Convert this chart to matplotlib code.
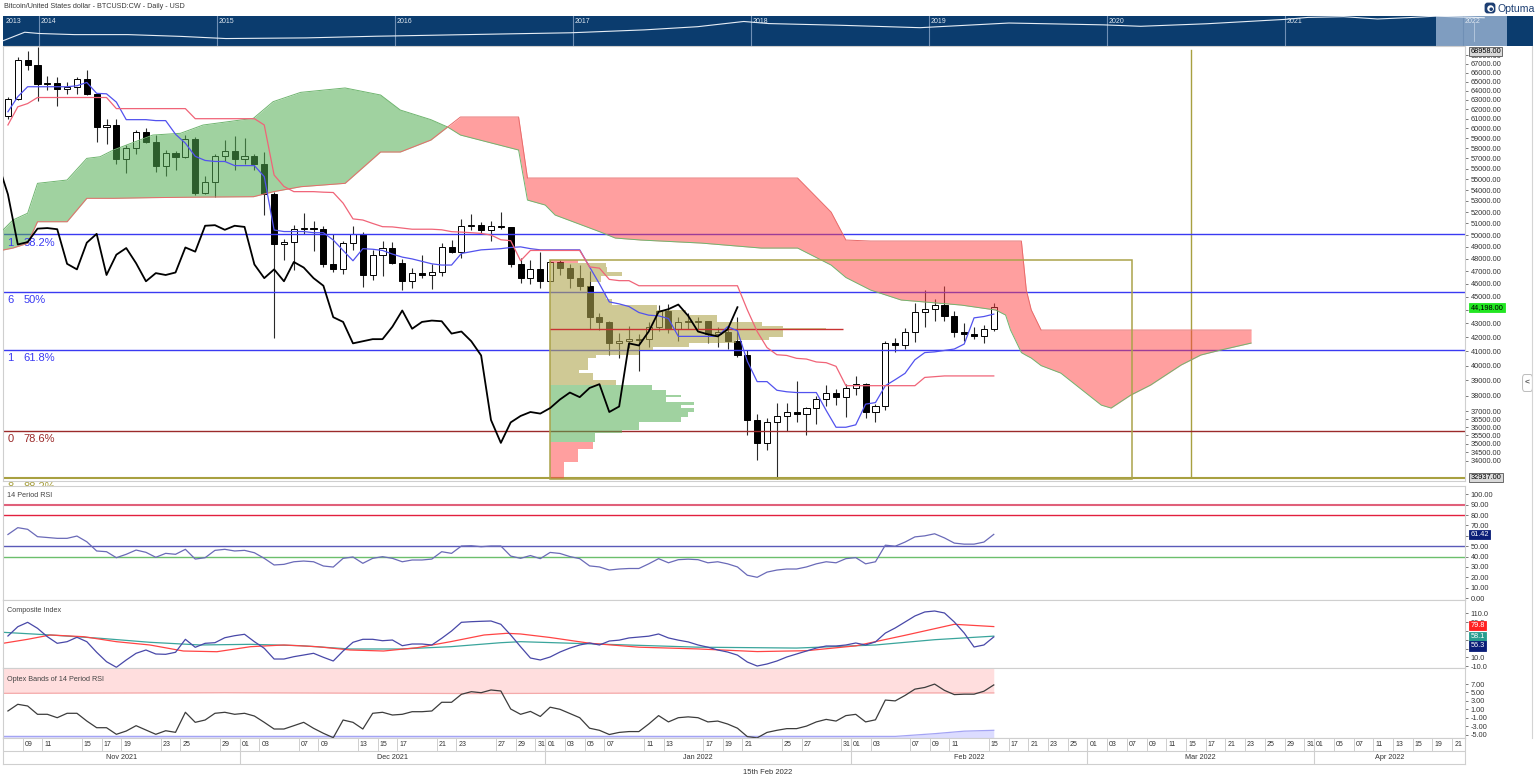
import numpy as np
import pandas as pd
import matplotlib
matplotlib.use("Agg")
import matplotlib.pyplot as plt
from matplotlib.patches import Rectangle, FancyBboxPatch, Circle
from matplotlib.transforms import blended_transform_factory as btf
from matplotlib.ticker import NullLocator

plt.rcParams['font.family'] = ['Liberation Sans', 'DejaVu Sans']
W, H = 1536, 783

# ---------------- price bars: daily, 7 Nov 2021 .. 15 Feb 2022 ----------------
bar_dates = pd.date_range('2021-11-07', '2022-02-15', freq='D')
opens = [61300, 63100, 67450, 66900, 64700, 64800, 64150, 64400, 65300, 63600,
         60100, 60300, 56900, 58050, 59650, 58650, 56250, 57500, 57150, 58950,
         53700, 54700, 57250, 57750, 56950, 57200, 56500, 53600, 49200, 49400,
         50550, 50600, 50500, 47600, 47150, 49350, 50100, 46700, 48350, 48900,
         47650, 46200, 46850, 46700, 46900, 48950, 48600, 50800, 50850, 50450,
         50800, 50700, 47550, 46450, 47150, 46200, 47750, 47300, 46450, 45850,
         43450, 43100, 41550, 41700, 41800, 41850, 42750, 43950, 42600, 43100,
         43100, 43150, 42250, 42400, 41700, 40700, 36450, 35050, 36300, 36700,
         36950, 36850, 37200, 37750, 38200, 37900, 38500, 38750, 36950, 37300,
         41550, 41400, 42400, 43850, 44050, 44400, 43550, 42400, 42200, 42050,
         42550]
highs = [63300, 67800, 68500, 68958, 65600, 65450, 64900, 65500, 66300, 63600,
         61000, 60950, 58350, 59850, 60000, 59300, 57850, 57700, 59350, 59150,
         55300, 57400, 58850, 59200, 59050, 57400, 57600, 53850, 49700, 50900,
         51950, 51200, 50800, 50100, 49500, 50800, 50300, 48700, 49500, 49450,
         48000, 47300, 48300, 47550, 49300, 49600, 51350, 51850, 51150, 51250,
         52000, 50700, 48100, 47900, 48550, 47950, 47950, 47550, 47500, 47050,
         43750, 43150, 42300, 42800, 42250, 43100, 44350, 44450, 43450, 43800,
         43450, 43200, 42700, 42600, 43500, 41100, 36850, 36550, 37550, 37550,
         38950, 37250, 38000, 38700, 38400, 38750, 39300, 38850, 37450, 41750,
         41950, 42650, 44500, 45500, 44800, 45800, 43950, 43000, 42750, 42850,
         44550]
lows = [61000, 63000, 66300, 62900, 64100, 62300, 63600, 63600, 63500, 58600,
        58400, 56500, 55600, 57450, 58500, 55650, 55350, 55900, 57000, 53550,
        53650, 53350, 56700, 55900, 56500, 55850, 51700, 41900, 47900, 47100,
        50050, 48650, 47350, 46900, 46800, 48700, 45750, 46300, 46600, 47550,
        45500, 45650, 46450, 45600, 46650, 48450, 48050, 50450, 50200, 49500,
        50500, 47350, 46100, 45950, 45700, 46200, 46700, 45700, 45500, 42550,
        42500, 40700, 40550, 41250, 39650, 41300, 42450, 42300, 41750, 42600,
        42600, 41550, 41300, 41150, 40600, 35500, 34050, 34650, 32937, 35750,
        36300, 35500, 36200, 37350, 37400, 36650, 38050, 36600, 36300, 37050,
        40950, 41150, 41650, 42700, 43150, 43200, 42000, 41750, 41850, 41550,
        42450]
closes = [63100, 67450, 66900, 64700, 64800, 64150, 64400, 65300, 63600, 60100,
          60300, 56900, 58050, 59650, 58650, 56250, 57500, 57150, 58950, 53700,
          54700, 57250, 57750, 56950, 57200, 56500, 53600, 49200, 49400, 50550,
          50600, 50500, 47600, 47150, 49350, 50100, 46700, 48350, 48900, 47650,
          46200, 46850, 46700, 46900, 48950, 48600, 50800, 50850, 50450, 50800,
          50700, 47550, 46450, 47150, 46200, 47750, 47300, 46450, 45850, 43450,
          43100, 41550, 41700, 41850, 41850, 42750, 43950, 42600, 43100, 43200,
          43150, 42250, 42400, 41700, 40700, 36450, 35050, 36300, 36700, 36950,
          36850, 37200, 37750, 38200, 37900, 38500, 38750, 36950, 37300, 41550,
          41400, 42400, 43850, 44050, 44400, 43550, 42400, 42200, 42050, 42550,
          44198]

# Ichimoku (per bar)
tenkan = [61730, 63335, 64425, 64425, 64425, 64425, 64425, 64530, 64900, 63700,
          63650, 62750, 60900, 60900, 60900, 60800, 60800, 59400, 58500, 57200,
          56800, 56700, 56700, 56300, 56300, 56300, 55250, 50430, 50300, 50300,
          50300, 50200, 50200, 49575, 48700, 47850, 48850, 48800, 48700, 48400,
          48150, 48000, 47800, 47600, 47500, 47500, 48450, 48600, 48750, 48800,
          48850, 48950, 49000, 48850, 48750, 48750, 48750, 48750, 48750, 47350,
          46000, 44600, 44450, 44250, 43800, 43600, 43550, 43350, 42050, 42050,
          42050, 42050, 42050, 42750, 42450, 40300, 38920, 38920, 38350, 38250,
          38200, 38200, 38200, 37050, 36000, 36000, 36150, 37450, 37550, 38650,
          39050, 39475, 40400, 40900, 40950, 41050, 41150, 41500, 43400, 43500,
          43680]
kijun = ([60350, 62250, 62600] + [63250] * 8 + [62060] * 8 + [61000] * 7 +
         [60350, 55400, 54330, 53850, 53850, 53850, 53800, 53770, 52800, 51400,
          51300, 51000, 50720, 50700, 50600, 50500, 50500, 50500, 50450, 50290,
          50250, 50200, 50140, 50000, 49600, 49520, 47850] +
         [48700] * 6 + [47350, 47250, 46350, 46250, 46250] + [45850] * 11 +
         [44000, 42400, 41250, 40750, 40700, 40500, 40450, 40250, 40200, 39950] +
         [38650] * 8 + [39200, 39250] + [39300] * 6)

# Kumo (cloud) edges: bar position, Senkou span A, Senkou span B
cloud_bar = [-2.5, -1.5, 0, 1, 4, 6, 7.35, 8.7, 12.7, 15.5, 17.8, 22.9, 24.9, 27.7,
             32.2, 35.8, 37.8, 40.9, 42.6, 43.9, 49.8, 50.7, 52.5, 53.5, 58.1, 59.6,
             62.2, 68.3, 74.4, 78.1, 81.5, 83, 85.5, 88.6, 94.7, 98.2, 99.2, 99.7,
             100.8, 101.3, 101.8, 102.8, 104.8, 108.9, 109.9, 111.9, 113.9, 117,
             119, 121, 124.1]
span_a = [50430, 51300, 51900, 54620, 54930, 57000, 57160, 57820, 59320, 59495,
          60345, 61040, 62800, 63810, 64290, 63520, 61910, 60900, 60140, 59320,
          57820, 53080, 52630, 51740, 50260, 49745, 49575, 49320, 48900, 48900,
          47500, 46500, 45515, 44745, 44360, 43985, 43610, 42505, 40900, 40700,
          40520, 40000, 39490, 37390, 37200, 38035, 38690, 40040, 40730, 41075,
          41570]
span_b = [48735, 48900, 49300, 51150, 51150, 53240, 53240, 53240, 53300, 53330,
          53350, 53385, 53840, 54305, 54620, 57625, 57625, 58815, 60140, 61175,
          61175, 55115, 55115, 55115, 55115, 55115, 55115, 55115, 55115, 55115,
          52000, 49575, 49490, 49490, 49490, 49490, 49490, 49490, 49490, 45515,
          44000, 42505, 42505, 42505, 42505, 42505, 42505, 42505, 42505, 42505,
          42505]

# Fibonacci retracement levels
fib_price = [50100, 45400, 41100, 35800, 33000]
fib_pct = ['38.2%', '50%', '61.8%', '78.6%', '88.2%']
fib_lead = ['1', '6', '1', '0', '8']
fib_col = ['#3a3af2', '#3a3af2', '#3a3af2', '#9b2a2a', '#a8a040']

# Volume profile (1 Jan 2022 .. 7 Mar 2022): bin low, bin high, length in bars, colour group
prof_lo = [47640, 47360, 46960, 46615, 46165, 45770, 45255, 44795, 44360, 43985,
           43610, 43110, 42795, 42630, 42505, 42265, 42020, 41785, 41550, 41310,
           41075, 40730, 40500, 39695, 39475, 39025, 38690, 38360, 38035, 37925,
           37600, 37390, 37180, 36965, 36650, 36340, 35825, 35660, 35120, 34665,
           33940, 32937]
prof_hi = [47950, 47640, 47360, 46960, 46615, 46165, 45770, 45255, 44795, 44360,
           43985, 43610, 43110, 42795, 42630, 42505, 42265, 42020, 41785, 41550,
           41310, 41075, 40730, 40500, 39695, 39475, 39025, 38690, 38360, 38035,
           37925, 37600, 37390, 37180, 36965, 36650, 36340, 35825, 35660, 35120,
           34665, 33940]
prof_len = [2.8, 5.7, 5.8, 7.3, 5.2, 4.0, 3.8, 5.7, 6.3, 10.8,
            13.8, 16.9, 21.5, 23.6, 28.0, 23.6, 23.6, 22.2, 18.9, 14.1,
            10.4, 9.0, 4.7, 3.8, 2.9, 4.3, 6.7, 10.3, 11.8, 13.3,
            11.8, 14.6, 13.3, 14.6, 14.0, 13.3, 9.0, 7.3, 4.5, 4.3,
            2.8, 1.4]
prof_grp = ['r'] + ['o'] * 26 + ['g'] * 12 + ['r'] * 3
poc_price = 42570
box_start, box_end = '2022-01-01', '2022-03-07'
box_lo, box_hi = 32937, 47950
vline_date = '2022-03-15'

# 14 period RSI (per bar)
rsi = [61.3, 67.9, 66.3, 59.2, 58.4, 57.6, 57.6, 59.8, 54.3, 45.4,
       44.7, 38.9, 42.2, 46.3, 44.1, 39.3, 43.1, 42.2, 47.0, 37.6,
       38.9, 46.0, 47.0, 45.4, 46.0, 43.7, 38.3, 31.9, 32.5, 35.0,
       35.7, 35.0, 30.9, 29.9, 38.3, 39.6, 33.5, 38.3, 39.9, 38.3,
       35.0, 36.7, 36.7, 37.6, 44.7, 43.1, 50.2, 50.5, 49.5, 50.2,
       50.2, 40.5, 38.3, 41.0, 38.0, 44.0, 43.0, 40.0, 38.0, 31.0,
       30.0, 27.0, 28.0, 28.5, 28.5, 33.0, 38.0, 34.0, 37.0, 37.5,
       37.0, 34.0, 35.0, 33.0, 30.0, 22.0, 20.0, 25.0, 27.0, 28.0,
       28.0, 30.0, 33.0, 35.0, 34.0, 38.0, 39.0, 33.0, 35.0, 51.0,
       50.0, 54.0, 59.0, 60.0, 62.0, 58.0, 53.0, 52.0, 52.0, 54.0,
       61.42]
rsi_levels = [90, 80, 50, 40]
rsi_level_col = ['#e0607a', '#e2203e', '#5a5ab8', '#6cbf6c']

# Composite index (per bar) and its two averages (vertices)
comp = [58.4, 79.5, 89.5, 75.9, 56.8, 41.8, 45.5, 55.5, 45.5, 21.4,
        0.0, -12.7, 3.9, 19.1, 26.6, 17.5, 16.8, 21.4, 50.9, 32.7,
        41.8, 43.2, 54.5, 59.1, 62.3, 45.5, 30.5, 6.1, 6.1, 11.4,
        15.2, 19.1, 10.0, 1.6, 24.3, 44.1, 50.9, 50.9, 47.7, 49.3,
        36.4, 40.2, 40.2, 38.0, 53.2, 69.8, 89.5, 90.9, 91.8, 92.5,
        85.0, 60.7, 34.1, 8.4, 3.9, 10.7, 22.0, 31.0, 38.0, 42.5,
        38.0, 47.0, 49.0, 54.0, 56.0, 58.0, 63.0, 54.0, 49.0, 45.0,
        38.0, 33.0, 26.6, 22.0, 15.0, -0.7, -9.8, -5.2, 1.6, 10.7,
        17.5, 24.3, 31.0, 35.7, 35.7, 38.0, 42.5, 38.0, 45.0, 65.0,
        76.6, 90.2, 103.9, 113.0, 115.2, 110.7, 90.2, 65.2, 33.4, 38.0,
        56.3]
fast_bar = [-2.5, 0, 2.3, 5.7, 9, 12.4, 15.8, 19.2, 22.6, 26, 29.4, 32.7, 36.1,
            39.5, 42.9, 46.3, 48.6, 50, 53, 57, 62, 68, 74, 79, 84, 89, 94, 98]
fast_val = [41.8, 50.9, 60.7, 56.8, 45.5, 38.0, 24.3, 22.7, 34.1, 38.0, 34.1, 26.6,
            24.3, 31.8, 45.5, 60.7, 64.5, 63.0, 55.0, 42.0, 33.0, 29.0, 23.0,
            25.0, 36.0, 60.0, 85.0, 79.8]
slow_bar = [-2.5, 2.3, 7.35, 12.4, 17.5, 22.6, 27.7, 32.7, 37.8, 42.9, 48, 50,
            58, 68, 78, 86, 92, 98]
slow_val = [66.8, 60.7, 53.2, 44.1, 38.0, 39.5, 36.4, 28.9, 28.9, 34.1, 43.2,
            45.5, 40.0, 33.0, 31.0, 38.0, 50.0, 58.1]

# Optex bands of 14 period RSI (per bar)
optex = [0.6, 2.19, 1.79, -0.19, -0.19, -1.0, 0.05, 0.05, -1.79, -3.38,
         -3.38, -4.95, -4.17, -2.9, -3.93, -4.95, -4.1, -4.48, 0.29, -2.1,
         -1.55, 0.05, 0.29, -0.19, 0.05, -0.6, -2.1, -3.69, -3.69, -2.9,
         -2.1, -3.52, -4.71, -5.76, -1.55, -2.1, -3.69, 0.05, 0.29, -0.36,
         -0.19, 0.43, 0.43, 0.6, 2.67, 2.67, 4.57, 5.19, 4.95, 5.6,
         5.36, 1.07, -0.19, 0.5, -0.7, 1.5, 1.0, 0.0, -1.0, -3.5,
         -4.0, -5.0, -4.5, -4.3, -4.3, -2.5, -0.5, -2.0, -1.0, -0.8,
         -1.0, -2.0, -1.8, -2.5, -3.5, -5.5, -5.8, -4.5, -4.0, -3.6,
         -3.6, -3.0, -2.0, -1.4, -1.8, -0.5, -0.2, -2.0, -1.5, 3.2,
         3.0, 4.3, 5.8, 6.2, 7.0, 5.5, 4.5, 4.6, 4.6, 5.3,
         6.8]
band_bar = [-2.5, 20, 45, 70, 98]
band_upper = [4.8, 4.95, 4.75, 4.9, 4.9]
band_lower_bar = [-2.5, 88, 92, 95, 98]
band_lower = [-5.45, -5.45, -4.8, -4.2, -4.0]

# Navigator (long-term history)
nav_year = [2013.80, 2013.92, 2014.0, 2014.2, 2014.5, 2014.8, 2015.05, 2015.5, 2015.9,
            2016.0, 2016.5, 2016.99, 2017.4, 2017.7, 2017.96, 2018.1, 2018.5, 2018.95,
            2019.45, 2019.98, 2020.19, 2020.56, 2021.0, 2021.13, 2021.33, 2021.52,
            2021.71, 2021.85, 2022.12]
nav_price = [130, 1100, 800, 600, 600, 380, 220, 260, 400, 430, 650, 960, 2000, 4500,
             17000, 10000, 6500, 3500, 11500, 7200, 5000, 9500, 29000, 48000, 58000,
             32000, 47000, 66000, 44000]
nav_years = list(range(2013, 2023))

# Date axis labels
day_ticks = ['2021-11-09', '2021-11-11', '2021-11-15', '2021-11-17', '2021-11-19', '2021-11-23',
             '2021-11-25', '2021-11-29', '2021-12-01', '2021-12-03', '2021-12-07', '2021-12-09',
             '2021-12-13', '2021-12-15', '2021-12-17', '2021-12-21', '2021-12-23', '2021-12-27',
             '2021-12-29', '2021-12-31', '2022-01-01', '2022-01-03', '2022-01-05', '2022-01-07',
             '2022-01-11', '2022-01-13', '2022-01-17', '2022-01-19', '2022-01-21', '2022-01-25',
             '2022-01-27', '2022-01-31', '2022-02-01', '2022-02-03', '2022-02-07', '2022-02-09',
             '2022-02-11', '2022-02-15', '2022-02-17', '2022-02-21', '2022-02-23', '2022-02-25',
             '2022-03-01', '2022-03-03', '2022-03-07', '2022-03-09', '2022-03-11', '2022-03-15',
             '2022-03-17', '2022-03-21', '2022-03-23', '2022-03-25', '2022-03-29', '2022-03-31',
             '2022-04-01', '2022-04-05', '2022-04-07', '2022-04-11', '2022-04-13', '2022-04-15',
             '2022-04-19', '2022-04-21']
month_starts = ['2021-12-01', '2022-01-01', '2022-02-01', '2022-03-01', '2022-04-01']
month_names = ['Nov 2021', 'Dec 2021', 'Jan 2022', 'Feb 2022', 'Mar 2022', 'Apr 2022']

# ---------------- helpers ----------------
BASE = pd.Timestamp('2021-11-09')
LAST = pd.Timestamp('2022-02-15')


def bar_of(d):
    d = pd.Timestamp(d)
    if d <= LAST:
        return (d - BASE).days
    return 98 + len(pd.bdate_range(LAST + pd.Timedelta(days=1), d))


fig = plt.figure(figsize=(W / 100, H / 100), dpi=100)


def add_ax(x0, y0, x1, y1, **kw):
    return fig.add_axes([x0 / W, 1 - y1 / H, (x1 - x0) / W, (y1 - y0) / H], **kw)


XL = (-2.5, 145.8)
GRID = '#cfcfcf'
TXT = '#333333'
FS = 5.3
bars = np.array([bar_of(d) for d in bar_dates])
o, h, l, c = map(np.array, (opens, highs, lows, closes))


def style_panel(ax):
    ax.set_xlim(*XL)
    ax.set_xticks([])
    for s in ax.spines.values():
        s.set_color(GRID)
        s.set_linewidth(0.8)
    ax.yaxis.tick_right()
    ax.tick_params(axis='y', which='major', length=2.5, width=0.6, color='#666666',
                   labelsize=FS, pad=1.5, labelcolor=TXT)
    ax.yaxis.set_minor_locator(NullLocator())


def badge(ax, yval, text, fc, tc='white', ec=None, dy=0):
    ax.annotate(text, xy=(1, yval), xycoords=btf(ax.transAxes, ax.transData),
                xytext=(4, dy), textcoords='offset points', fontsize=FS, color=tc,
                va='center', ha='left', annotation_clip=False, zorder=10,
                bbox=dict(boxstyle='square,pad=0.15', fc=fc, ec=ec if ec else fc, lw=0.6))


# ---------------- title / logo ----------------
fig.text(4 / W, 1 - 7 / H, 'Bitcoin/United States dollar - BTCUSD:CW - Daily - USD',
         fontsize=5.2, color='#3a3a3a', va='center', ha='left')
fig.text(1497 / W, 1 - 8.5 / H, 'Optuma', fontsize=7.6, color='#1d3f73', va='center', ha='left')
axl = add_ax(1484, 2, 1496, 14)
axl.set_xlim(0, 1); axl.set_ylim(0, 1); axl.axis('off')
axl.add_patch(FancyBboxPatch((0.05, 0.05), 0.9, 0.9, boxstyle='round,pad=0,rounding_size=0.25',
                             fc='#1d3f73', ec='none'))
axl.add_patch(Circle((0.55, 0.45), 0.28, fc='white', ec='none'))
axl.add_patch(Circle((0.6, 0.4), 0.15, fc='#1d3f73', ec='none'))

# ---------------- navigator ----------------
axn = add_ax(3, 15.5, 1533, 46)
axn.set_facecolor('#0b3c6e')
axn.set_xlim(2013.798, 2022.394)
axn.set_yscale('log')
axn.set_ylim(33, 78000)
axn.set_xticks([]); axn.set_yticks([])
axn.yaxis.set_minor_locator(NullLocator())
for s in axn.spines.values():
    s.set_visible(False)
axn.axvspan(2021.85, 2022.25, color='#7f9dc0', lw=0)
for yr in nav_years:
    if yr >= 2014:
        axn.axvline(yr, color='#6f8fb5', lw=0.8)
    axn.text(max(yr, 2013.8) + 0.012, 0.93, str(yr), transform=btf(axn.transData, axn.transAxes),
             fontsize=5.0, color='#dfe7f0', va='top', ha='left')
axn.plot(nav_year, nav_price, color='#e6edf5', lw=0.8)
axn.axvline(2022.06, ymin=0.15, ymax=0.75, color='#b9cbe0', lw=0.6)

# ---------------- main price panel ----------------
axm = add_ax(3, 46, 1465, 481)
axm.set_yscale('log')
style_panel(axm)
axm.set_ylim(32840, 69070)
pticks = [34000, 34500, 35000, 35500, 36000, 36500, 37000] + list(range(38000, 69000, 1000))
axm.set_yticks(pticks)
axm.set_yticklabels(['' if v == 44000 else f'{v:.2f}' for v in pticks])

# candles
axm.vlines(bars, l, h, color='#2a2a2a', lw=0.8, zorder=2)
for b, oo, cc in zip(bars, o, c):
    lo, hi = min(oo, cc), max(oo, cc)
    hi = max(hi, lo * 1.0008)
    axm.add_patch(Rectangle((b - 0.31, lo), 0.62, hi - lo, fc='white' if cc >= oo else 'black',
                            ec='black', lw=0.7, zorder=2.1))

# cloud
cb = np.array(cloud_bar); A = np.array(span_a); B = np.array(span_b)
axm.fill_between(cb, A, B, where=A >= B, interpolate=True, color='#52ad52', alpha=0.55, lw=0, zorder=3)
axm.fill_between(cb, A, B, where=A < B, interpolate=True, color='#ff4040', alpha=0.5, lw=0, zorder=3)
axm.plot(cb, A, color='#6fb56f', lw=0.7, zorder=3.2)
axm.plot(cb, B, color='#e86a6a', lw=0.7, zorder=3.2)

# volume profile
x0 = bar_of(box_start)
pcol = {'o': ('#afa54f', 0.6), 'g': ('#52ad52', 0.55), 'r': ('#ff4040', 0.5)}
for lo_, hi_, ln, g in zip(prof_lo, prof_hi, prof_len, prof_grp):
    col, al = pcol[g]
    axm.add_patch(Rectangle((x0, lo_), ln, hi_ - lo_, fc=col, alpha=al, lw=0, zorder=3))
axm.add_patch(Rectangle((x0, box_lo), bar_of(box_end) - x0, box_hi - box_lo, fill=False,
                        ec='#aba34a', lw=1.1, zorder=3.3))
axm.hlines(poc_price, x0, x0 + 29.7, color='#c83232', lw=1.0, zorder=3.4)

# fib levels
tr = btf(axm.transAxes, axm.transData)
for p, pct, lead, col in zip(fib_price, fib_pct, fib_lead, fib_col):
    axm.axhline(p, color=col, lw=1.5 if pct == '88.2%' else 1.0, zorder=2.5)
    axm.annotate(lead, xy=(0, p), xycoords=tr, xytext=(3, -6.3), textcoords='offset points',
                 fontsize=8, color=col, va='center', ha='left', annotation_clip=False)
    axm.annotate(pct, xy=(0, p), xycoords=tr, xytext=(15, -6.3), textcoords='offset points',
                 fontsize=8, color=col, va='center', ha='left', annotation_clip=False)

# ichimoku lines
axm.plot(bars, tenkan, color='#5252ee', lw=0.9, zorder=4)
axm.plot(bars, kijun, color='#f06478', lw=0.9, zorder=4)
axm.plot(bars - 26, c, color='black', lw=1.3, zorder=4)
axm.axvline(bar_of(vline_date), ymin=0.01, ymax=0.99, color='#a8a040', lw=1.0, zorder=2)

badge(axm, highs[3], f'{highs[3]:.2f}', '#d9d9d9', tc='black', ec='#555555', dy=-3)
badge(axm, closes[-1], f'{closes[-1]:,.2f}', '#22e622', tc='black')
badge(axm, min(lows), f'{min(lows):.2f}', '#d9d9d9', tc='black', ec='#555555', dy=1.5)

# ---------------- RSI ----------------
axr = add_ax(3, 486, 1465, 600)
style_panel(axr)
axr.set_ylim(-1.9, 108.1)
axr.set_yticks(range(0, 101, 10))
axr.set_yticklabels(['' if v == 60 else f'{v:.2f}' for v in range(0, 101, 10)])
for lv, col in zip(rsi_levels, rsi_level_col):
    axr.axhline(lv, color=col, lw=1.5 if lv == 90 else 1.0)
axr.plot(bars, rsi, color='#6a6ab8', lw=0.9)
axr.text(0.003, 0.95, '14 Period RSI', transform=axr.transAxes, fontsize=5.2, color='#444444', va='top')
badge(axr, rsi[-1], f'{rsi[-1]:.2f}', '#0a1e78')

# ---------------- Composite index ----------------
axc = add_ax(3, 600, 1465, 668)
style_panel(axc)
axc.set_ylim(-14.3, 140.2)
cticks = [-10, 10, 30, 50, 70, 90, 110]
axc.set_yticks(cticks)
axc.set_yticklabels([f'{v:.1f}' if v in (-10, 10, 90, 110) else '' for v in cticks])
axc.plot(slow_bar, slow_val, color='#3aa59c', lw=0.9)
axc.plot(fast_bar, fast_val, color='#ff4444', lw=0.9)
axc.plot(bars, comp, color='#4848a8', lw=0.9)
axc.text(0.003, 0.9, 'Composite Index', transform=axc.transAxes, fontsize=5.2, color='#444444', va='top')
badge(axc, fast_val[-1], f'{fast_val[-1]:.1f}', '#ff2020', dy=0.5)
badge(axc, slow_val[-1], f'{slow_val[-1]:.1f}', '#2a9d8f')
badge(axc, comp[-1], f'{comp[-1]:.1f}', '#0a1e78', dy=-6.5)

# ---------------- Optex bands ----------------
axo = add_ax(3, 668, 1465, 738)
style_panel(axo)
axo.set_ylim(-5.83, 10.83)
oticks = [-5, -3, -1, 1, 3, 5, 7]
axo.set_yticks(oticks)
axo.set_yticklabels([f'{v:.2f}' for v in oticks])
axo.fill_between(band_bar, band_upper, 12, color='#ffdede', lw=0)
axo.plot(band_bar, band_upper, color='#f4aaaa', lw=0.9)
axo.fill_between(band_lower_bar, -7, band_lower, color='#dcdcff', lw=0)
axo.plot(band_lower_bar, band_lower, color='#a4a4f4', lw=0.9)
axo.plot(bars, optex, color='#3c3c3c', lw=0.9)
axo.text(0.003, 0.88, 'Optex Bands of 14 Period RSI', transform=axo.transAxes, fontsize=5.2,
         color='#444444', va='top')

# ---------------- date axis ----------------
axd = add_ax(3, 738, 1465, 764)
axd.set_xlim(*XL); axd.set_ylim(0, 2)
axd.set_xticks([]); axd.set_yticks([])
for s in axd.spines.values():
    s.set_color(GRID); s.set_linewidth(0.8)
axd.axhline(1, color=GRID, lw=0.8)
for d in day_ticks:
    b = bar_of(d)
    axd.vlines(b - 0.5, 1, 2, color=GRID, lw=0.7)
    axd.text(b + 0.1, 1.5, pd.Timestamp(d).strftime('%d'), fontsize=5.0, color=TXT,
             ha='center', va='center')
edges = [XL[0]] + [bar_of(d) - 0.5 for d in month_starts] + [XL[1]]
for i, name in enumerate(month_names):
    if i > 0:
        axd.vlines(edges[i], 0, 2, color=GRID, lw=0.8)
    axd.text((edges[i] + edges[i + 1]) / 2, 0.5, name, fontsize=5.2, color=TXT, ha='center', va='center')

fig.text(768 / W, 1 - 772 / H, '15th Feb 2022', fontsize=5.5, color=TXT, ha='center', va='center')

# right border of the chart window
fig.add_artist(plt.Line2D([1532 / W, 1532 / W], [1 - 46 / H, 1 - 738 / H], color='#d4d4d4', lw=0.8))

# side tab
axt = add_ax(1522, 374, 1533, 392)
axt.set_xlim(0, 1); axt.set_ylim(0, 1); axt.axis('off')
axt.add_patch(FancyBboxPatch((0.05, 0.03), 0.9, 0.94, boxstyle='round,pad=0,rounding_size=0.2',
                             fc='white', ec='#bbbbbb', lw=0.7))
axt.text(0.5, 0.5, '<', fontsize=6, ha='center', va='center', color='#555555', weight='bold')

fig.savefig('out.png', dpi=100, facecolor='white')
